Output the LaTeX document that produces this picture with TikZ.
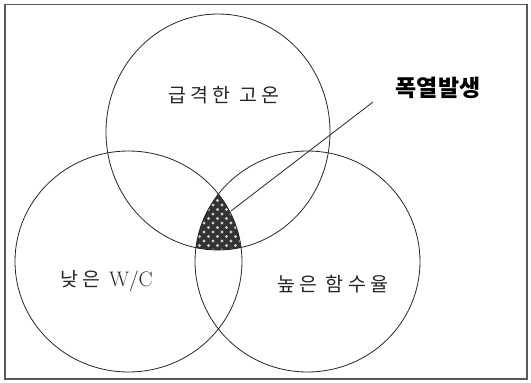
\documentclass[tikz,border=0pt]{standalone}
\usepackage{fontspec}
\newfontfamily\kr{Noto Sans CJK KR}[LetterSpace=22]
\newfontfamily\krbold{Noto Sans CJK KR}
\begin{document}
\begin{tikzpicture}[x=1pt,y=-1pt,
  venn/.style={draw=black!85, line width=0.8pt},
  lbl/.style={inner sep=0pt, text=black!85, font=\kr\fontsize{19.5}{23}\selectfont},
  boldlbl/.style={inner sep=0pt, text=black, font=\krbold\bfseries\fontsize{23}{26}\selectfont},
  frame/.style={draw=black!65, line width=1.3pt}]
\useasboundingbox (0,0) rectangle (531,383);
\draw[frame] (5,4.5) rectangle (527,379);
% shaded triple intersection
\begin{scope}
  \clip (218,132) ellipse [x radius=112, y radius=118];
  \clip (128.5,261.5) ellipse [x radius=113.5, y radius=110.5];
  \clip (307.5,261.5) ellipse [x radius=112.5, y radius=110.5];
  \fill[black!80] (180,170) rectangle (260,260);
  \foreach \i in {0,...,8}{
    \foreach \j in {0,...,9}{
      \fill[white!80!black] (186+9*\i,178+9*\j) circle (1.7);
      \fill[white!80!black] (190.5+9*\i,182.5+9*\j) circle (1.7);
    }
  }
\end{scope}
\draw[venn] (218,132) ellipse [x radius=112, y radius=118];
\draw[venn] (128.5,261.5) ellipse [x radius=113.5, y radius=110.5];
\draw[venn] (307.5,261.5) ellipse [x radius=112.5, y radius=110.5];
\node[lbl] (hot) at (224,95.5) {급격한 고온};
\node[lbl] (wc) at (106.5,281) {낮은 {\rmfamily\fontsize{21}{23}\selectfont W/C}};
\node[lbl] (moist) at (332.7,284) {높은 함수율};
\node[boldlbl] (spall) at (438,87.5) {폭열발생};
\coordinate (lead) at (373,102);
\coordinate (core) at (231,211);
\draw[black!85, line width=0.8pt] (lead) -- (core);
\end{tikzpicture}
\end{document}
